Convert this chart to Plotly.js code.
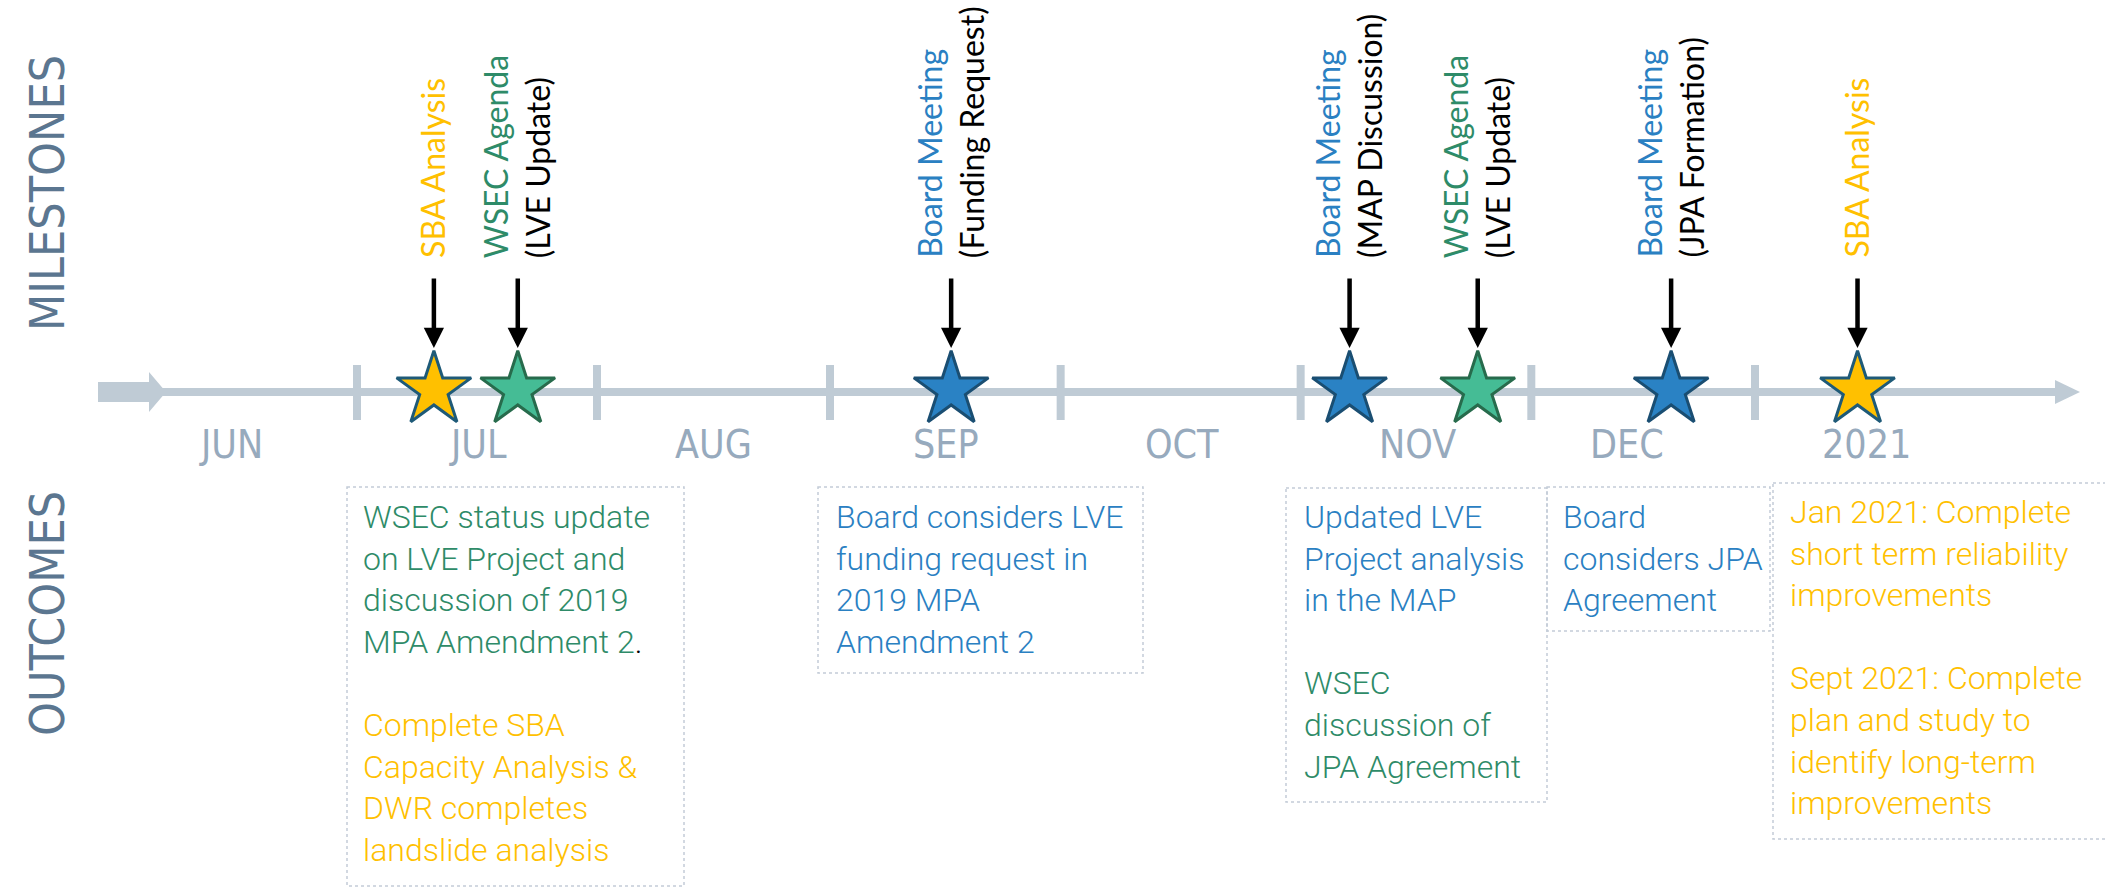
<!DOCTYPE html>
<html>
<head>
<meta charset="utf-8">
<script src="https://cdn.plot.ly/plotly-3.0.1.min.js"></script>
<style>
  html, body { margin: 0; padding: 0; background: #ffffff; }
  #chart { width: 2105px; height: 887px; }
</style>
</head>
<body>
<div id="chart"></div>
<script>
// ---------------- DATA ----------------
const monthLabels = ['JUN', 'JUL', 'AUG', 'SEP', 'OCT', 'NOV', 'DEC', '2021'];
const monthCenters = [0.46, 1.52, 2.53, 3.53, 4.54, 5.55, 6.45, 7.48];
const monthBoundaries = [1.0, 2.03, 3.03, 4.02, 5.05, 6.04, 7.0];

const milestoneTitles = ['SBA Analysis', 'WSEC Agenda', 'Board Meeting', 'Board Meeting', 'WSEC Agenda', 'Board Meeting', 'SBA Analysis'];
const milestoneNotes = ['', '(LVE Update)', '(Funding Request)', '(MAP Discussion)', '(LVE Update)', '(JPA Formation)', ''];
const milestoneTypes = ['SBA', 'WSEC', 'Board', 'Board', 'WSEC', 'Board', 'SBA'];
const milestonePositions = [1.33, 1.69, 3.55, 5.26, 5.81, 6.64, 7.44];

const outcomeJul = [
  ['WSEC', 'WSEC status update<br>on LVE Project and<br>discussion of 2019<br>MPA Amendment 2'],
  ['BLACK', '.'],
  ['BR', '<br><br>'],
  ['SBA', 'Complete SBA<br>Capacity Analysis &amp;<br>DWR completes<br>landslide analysis']
];
const outcomeSep = [
  ['Board', 'Board considers LVE<br>funding request in<br>2019 MPA<br>Amendment 2']
];
const outcomeNov = [
  ['Board', 'Updated LVE<br>Project analysis<br>in the MAP'],
  ['BR', '<br><br>'],
  ['WSEC', 'WSEC<br>discussion of<br>JPA Agreement']
];
const outcomeDec = [
  ['Board', 'Board<br>considers JPA<br>Agreement']
];
const outcome2021 = [
  ['SBA', 'Jan 2021: Complete<br>short term reliability<br>improvements'],
  ['BR', '<br><br>'],
  ['SBA', 'Sept 2021: Complete<br>plan and study to<br>identify long-term<br>improvements']
];

// ---------------- STYLE ----------------
const textColors = { SBA: '#FFC000', WSEC: '#2E8B68', Board: '#2A80C2', BLACK: '#000000' };
const starFill = { SBA: '#FFC000', WSEC: '#45BC95', Board: '#2A82C4' };
const starLine = { SBA: '#1E5A78', WSEC: '#276B4C', Board: '#1A4E72' };
const axisColor = '#BFCBD5';
const boxColor = '#C3CCD7';
const narrowFont = 'Liberation Sans Narrow, Arial Narrow, DejaVu Sans Condensed, sans-serif';

const W = 2105, H = 887;
const x0px = 124, pxPerUnit = 233;        // x axis: month units
const xRange = [-x0px / pxPerUnit, (W - x0px) / pxPerUnit];
const u = px => (px - x0px) / pxPerUnit;   // helper for layout decorations

const lineY = 392, starY = 390;

function richText(parts) {
  return parts.map(([k, t]) => k === 'BR' ? t : `<span style="color:${textColors[k]}">${t}</span>`).join('');
}

// ---------------- TRACES ----------------
const starTrace = {
  type: 'scatter', mode: 'markers',
  x: milestonePositions,
  y: milestonePositions.map(() => starY),
  marker: {
    symbol: 'star', size: 56,
    color: milestoneTypes.map(t => starFill[t]),
    line: { width: 3, color: milestoneTypes.map(t => starLine[t]) }
  },
  hoverinfo: 'skip', showlegend: false, cliponaxis: false
};

// ---------------- SHAPES ----------------
const shapes = [];
// main line
shapes.push({ type: 'line', xref: 'x', yref: 'y', x0: u(149), x1: u(2058), y0: lineY, y1: lineY,
  line: { color: axisColor, width: 8 }, layer: 'below' });
// left block arrow
shapes.push({ type: 'path', xref: 'x', yref: 'y', layer: 'below',
  path: `M ${u(98)},382 L ${u(149)},382 L ${u(149)},372 L ${u(166)},392 L ${u(149)},412 L ${u(149)},402 L ${u(98)},402 Z`,
  fillcolor: axisColor, line: { width: 0 } });
// right arrowhead
shapes.push({ type: 'path', xref: 'x', yref: 'y', layer: 'below',
  path: `M ${u(2055)},380 L ${u(2080)},392 L ${u(2055)},404 Z`,
  fillcolor: axisColor, line: { width: 0 } });
// month boundary ticks
monthBoundaries.forEach(b => shapes.push({ type: 'line', xref: 'x', yref: 'y', x0: b, x1: b, y0: 365, y1: 420,
  line: { color: axisColor, width: 8 }, layer: 'below' }));
// outcome boxes
const boxes = [
  [347, 684, 487, 886], [818, 1143, 487, 673], [1286, 1547, 488, 802], [1547, 1770, 487, 631], [1773, 2115, 483, 839]
];
boxes.forEach(([a, b, c, d]) => shapes.push({ type: 'rect', xref: 'x', yref: 'y', x0: u(a), x1: u(b), y0: c, y1: d,
  line: { color: boxColor, width: 1.5, dash: 'dot' }, fillcolor: 'rgba(0,0,0,0)', layer: 'below' }));

// ---------------- ANNOTATIONS ----------------
const annotations = [];
// side labels
annotations.push({ xref: 'x', yref: 'y', x: u(47), y: 193, text: 'MILESTONES', showarrow: false, textangle: -90,
  xanchor: 'center', yanchor: 'middle',
  font: { family: narrowFont, size: 48, color: '#5B7690' } });
annotations.push({ xref: 'x', yref: 'y', x: u(47), y: 614, text: 'OUTCOMES', showarrow: false, textangle: -90,
  xanchor: 'center', yanchor: 'middle',
  font: { family: narrowFont, size: 48, color: '#5B7690' } });

// month labels
monthLabels.forEach((m, i) => annotations.push({ xref: 'x', yref: 'y', x: monthCenters[i], y: 444, text: m,
  showarrow: false, xanchor: 'center', yanchor: 'middle',
  font: { family: narrowFont, size: 39, color: '#97AABD' } }));

// milestone arrows and labels
milestonePositions.forEach((p, i) => {
  annotations.push({ xref: 'x', yref: 'y', axref: 'x', ayref: 'y', x: p, y: 348, ax: p, ay: 277, text: '',
    showarrow: true, arrowhead: 2, arrowsize: 0.9, arrowwidth: 4.5, arrowcolor: '#000000', standoff: 0 });
  const two = milestoneNotes[i] !== '';
  const labelFont = { family: 'Lato, Open Sans, sans-serif', size: 32 };
  annotations.push({ xref: 'x', yref: 'y', x: p, y: 260, text: milestoneTitles[i], showarrow: false, textangle: -90,
    xanchor: 'center', yanchor: 'bottom', xshift: two ? -22 : -2,
    font: Object.assign({ color: textColors[milestoneTypes[i]] }, labelFont) });
  if (two) {
    annotations.push({ xref: 'x', yref: 'y', x: p, y: 260, text: milestoneNotes[i], showarrow: false, textangle: -90,
      xanchor: 'center', yanchor: 'bottom', xshift: 20,
      font: Object.assign({ color: '#000000' }, labelFont) });
  }
});

// outcome texts
const outcomeTexts = [outcomeJul, outcomeSep, outcomeNov, outcomeDec, outcome2021];
const outcomeLeft = [362, 835, 1303, 1562, 1789];
const outcomeTop = [496, 496, 496, 496, 491];
outcomeTexts.forEach((parts, i) => annotations.push({ xref: 'x', yref: 'y', x: u(outcomeLeft[i] - 1), y: outcomeTop[i],
  text: richText(parts), showarrow: false, xanchor: 'left', yanchor: 'top', align: 'left',
  font: { family: 'Roboto, sans-serif', size: 32, weight: 300, color: '#000000' } }));

// ---------------- LAYOUT ----------------
const layout = {
  width: W, height: H,
  margin: { l: 0, r: 0, t: 0, b: 0, pad: 0 },
  paper_bgcolor: '#ffffff', plot_bgcolor: '#ffffff',
  xaxis: { range: xRange, visible: false, fixedrange: true },
  yaxis: { range: [H, 0], visible: false, fixedrange: true },
  shapes: shapes,
  annotations: annotations,
  showlegend: false
};

Plotly.newPlot('chart', [starTrace], layout, { staticPlot: true, displayModeBar: false });
</script>
</body>
</html>
